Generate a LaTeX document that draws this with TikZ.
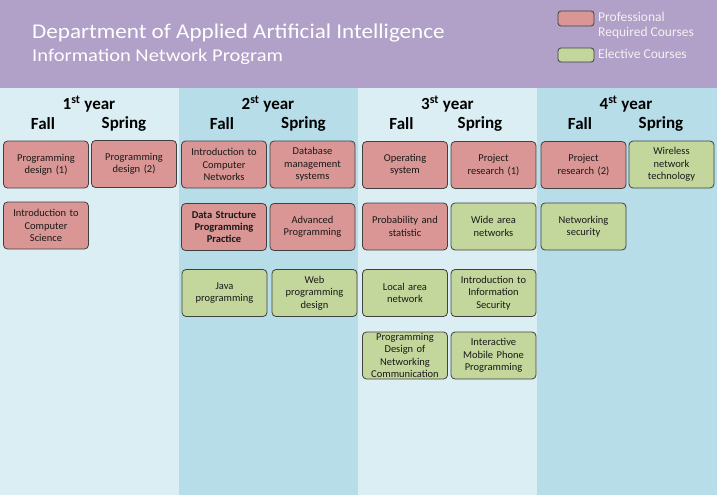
\documentclass[tikz,border=0pt]{standalone}
\usepackage{fontspec}
\setmainfont{Carlito}
\newfontfamily\titleA[FakeStretch=1.1]{Carlito}
\newfontfamily\titleB[FakeStretch=1.14]{Carlito}
\definecolor{hdrpurple}{HTML}{B1A0C7}
\definecolor{colA}{HTML}{DBEEF4}
\definecolor{colB}{HTML}{B7DDE8}
\definecolor{reqpink}{HTML}{D99694}
\definecolor{elegreen}{HTML}{C3D69B}
\definecolor{boxline}{HTML}{404040}
\tikzset{
  course/.style={draw=boxline, line width=0.8pt, rounded corners=4pt,
    minimum width=85pt, minimum height=47pt, inner sep=0pt, align=center,
    text width=85pt, font=\fontsize{10.5}{12.4}\selectfont, text=black!90},
  req/.style={course, fill=reqpink},
  ele/.style={course, fill=elegreen},
  yearlbl/.style={font=\bfseries\fontsize{17}{20}\selectfont, inner sep=0pt},
  semlbl/.style={font=\bfseries\fontsize{17}{20}\selectfont, inner sep=0pt},
  legbox/.style={draw=boxline, line width=0.8pt, rounded corners=3pt},
  legtext/.style={anchor=base west, text=white!95!black, inner sep=0pt, font=\fontsize{13.5}{16}\selectfont},
}
\begin{document}
\begin{tikzpicture}[x=1pt,y=-1pt]
\useasboundingbox (0,0) rectangle (717,495);
% background
\fill[hdrpurple] (0,0) rectangle (717,88);
\fill[colA] (0,88) rectangle (179,495);
\fill[colB] (179,88) rectangle (358,495);
\fill[colA] (358,88) rectangle (537,495);
\fill[colB] (537,88) rectangle (717,495);
% title
\node[anchor=base west, text=white, inner sep=0pt, font=\titleA\fontsize{21}{24}\selectfont] (title1) at (32,38.5) {Department of Applied Artificial Intelligence};
\node[anchor=base west, text=white, inner sep=0pt, font=\titleB\fontsize{18}{22}\selectfont] (title2) at (32,61.5) {Information Network Program};
% legend
\draw[legbox, fill=reqpink] (558,11) rectangle (594,26);
\draw[legbox, fill=elegreen] (558,48) rectangle (594,62);
\node[legtext] (legreq1) at (598,21.5) {Professional};
\node[legtext] (legreq2) at (598,37) {Required Courses};
\node[legtext] (legele) at (598,58.5) {Elective Courses};
% year headers
\node[yearlbl] (y1) at (89,104) {1\textsuperscript{st} year};
\node[yearlbl] (y2) at (268,104) {2\textsuperscript{st} year};
\node[yearlbl] (y3) at (447.5,104) {3\textsuperscript{st} year};
\node[yearlbl] (y4) at (626,104) {4\textsuperscript{st} year};
\node[semlbl] (f1) at (43,124) {Fall};
\node[semlbl] (s1) at (124,124) {Spring};
\node[semlbl] (f2) at (222,124) {Fall};
\node[semlbl] (s2) at (303.5,124) {Spring};
\node[semlbl] (f3) at (401.5,124) {Fall};
\node[semlbl] (s3) at (480,124) {Spring};
\node[semlbl] (f4) at (580,124) {Fall};
\node[semlbl] (s4) at (661,124) {Spring};
% year 1
\node[req] (pd1) at (46,164.5) {Programming\\design (1)};
\node[req] (pd2) at (134,164) {Programming\\design (2)};
\node[req] (ics) at (46,225.5) {Introduction to\\Computer\\Science};
% year 2
\node[req] (icn) at (224,164.5) {Introduction to\\Computer\\Networks};
\node[req] (dbm) at (312.5,164.5) {Database\\management\\systems};
\node[req, font=\bfseries\fontsize{10.5}{12.4}\selectfont] (dsp) at (224,227) {Data Structure\\Programming\\Practice};
\node[req] (adv) at (312.5,227) {Advanced\\Programming};
\node[ele] (java) at (224.5,293) {Java\\programming};
\node[ele] (web) at (314.5,293) {Web\\programming\\design};
% year 3
\node[req] (os) at (405,165) {Operating\\system};
\node[req] (pr1) at (493.5,165) {Project\\research (1)};
\node[req] (prob) at (405,226.5) {Probability and\\statistic};
\node[ele] (wan) at (493.5,226.5) {Wide area\\networks};
\node[ele] (lan) at (405,293) {Local area\\network};
\node[ele] (iis) at (493.5,293) {Introduction to\\Information\\Security};
\node[ele] (pdnc) at (405,355.5) {Programming\\Design of\\Networking\\Communication};
\node[ele] (imp) at (493.5,355.5) {Interactive\\Mobile Phone\\Programming};
% year 4
\node[req] (pr2) at (583.5,165) {Project\\research (2)};
\node[ele] (wnt) at (671.5,164.5) {Wireless\\network\\technology};
\node[ele] (nsec) at (583.5,226.5) {Networking\\security};
\end{tikzpicture}
\end{document}
